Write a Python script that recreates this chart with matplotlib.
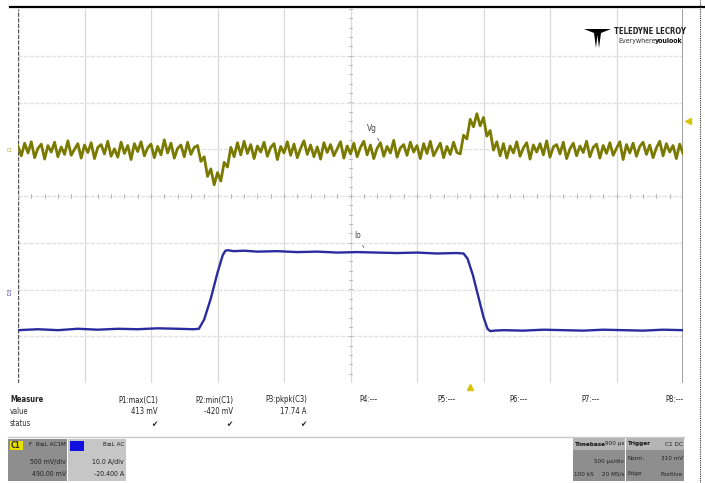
import matplotlib
matplotlib.use("Agg")
import matplotlib.pyplot as plt
import numpy as np
from matplotlib.patches import Rectangle, Polygon
from matplotlib.lines import Line2D

W, H = 705, 483

# scope settings
vg_scale = 500.0     # mV/div
vg_offset = 490.0    # mV
io_scale = 10.0      # A/div
io_offset = -20.4    # A
time_div = 500.0     # us/div
trig_delay = 900.0   # us
trig_level = 310.0   # mV

# C1 (Vg) trace, mV, one sample every 25 us from -3400 us
vg_t0, vg_dt = -3400.0, 25.0
vg_mv = [40, -60, 75, -30, 90, -80, 20, 65, -95, 50,
         -20, 85, -70, 35, -45, 100, -55, 10, 70, -85,
         55, -25, 80, -90, 30, 60, -40, 95, -65, 15,
         -75, 85, -35, 50, -100, 70, -15, 90, -60, 25,
         65, -80, 40, -50, 110, -30, 75, -85, 20, 55,
         -70, 85, -45, 30,
         50, -120, -70, -280, -200, -370, -240, -330, -130, -180, 30, -70,
         80, -50, 95, -35,
         60, -90, 45, -20, 85, -65, 30, 70, -100, 40,
         -30, 90, -55, 65, -80, 20, 100, -45, 55, -70,
         35, -95, 80, -25, 60, -60, 15, 90, -85, 45,
         -40, 75, -70, 30, 95, -50, 55, -90, 20, 80,
         -65, 40, -30, 105, -75, 25, 60, -55, 85, -20,
         50, -90, 70, -35, 95, -60, 10, 75, -80, 40,
         -45, 85, -25,
         -40, 160, 120, 330, 250, 390, 260, 350, 150, 210, 0, 90, -60,
         70, -85, 45, -30,
         90, -65, 25, 80, -95, 55, -20, 70, -50, 100,
         -75, 35, 60, -40, 85, -90, 15, 75, -60, 45,
         -25, 95, -70, 30, 65, -85, 50, -35, 80, -55,
         20, 90, -100, 60, -30, 75, -65, 40, 85, -45,
         55, -80, 25, 95, -60, 70, -20, 50, -90, 65,
         -35]

# C3 (Io) trace
io_t = [-3400, -3250, -3100, -2950, -2800, -2650, -2500, -2350, -2200, -2080,
        -2040, -2000, -1950, -1900, -1860, -1840, -1820, -1780, -1700, -1600,
        -1450, -1300, -1150, -1000, -850, -700, -550, -400, -250, -100,
        -50, -20, 20, 60, 100, 130, 150, 180, 250, 400,
        550, 700, 850, 1000, 1150, 1300, 1450, 1600]
io_a = [-8.3, -8.1, -8.3, -8.0, -8.2, -8.0, -8.1, -7.9, -8.0, -8.1,
        -8.0, -6.0, -1.5, 4.0, 7.8, 8.7, 8.8, 8.6, 8.7, 8.5,
        8.6, 8.4, 8.5, 8.3, 8.4, 8.3, 8.2, 8.3, 8.1, 8.2,
        8.1, 7.0, 3.5, -1.0, -5.5, -8.0, -8.5, -8.4, -8.3, -8.4,
        -8.2, -8.3, -8.4, -8.2, -8.3, -8.4, -8.2, -8.3]

meas_names = ["P1:max(C1)", "P2:min(C1)", "P3:pkpk(C3)", "P4:---", "P5:---",
              "P6:---", "P7:---", "P8:---"]
meas_values = ["413 mV", "-420 mV", "17.74 A", "", "", "", "", ""]
meas_status = ["\u2714", "\u2714", "\u2714", "", "", "", "", ""]

plt.rcParams['font.family'] = ["DejaVu Sans"]
plt.rcParams['font.stretch'] = "condensed"

fig = plt.figure(figsize=(W / 100, H / 100), dpi=100)
fig.patch.set_facecolor("white")


def fx(x):
    return x / W


def fy(y):
    return 1 - y / H


def ftxt(x, y, s, **kw):
    kw.setdefault("fontsize", 5.5)
    kw.setdefault("va", "center")
    kw.setdefault("fontstretch", "condensed")
    fig.text(fx(x), fy(y), s, **kw)


def frect(x, y, w, h, color, **kw):
    fig.add_artist(Rectangle((fx(x), fy(y + h)), w / W, h / H, transform=fig.transFigure,
                             facecolor=color, edgecolor="none", **kw))


ax = fig.add_axes([fx(18), fy(383), 665 / W, 374 / H])
ax.set_xlim(-5, 5)
ax.set_ylim(-4, 4)
for s in ax.spines.values():
    s.set_visible(False)
ax.set_xticks([])
ax.set_yticks([])

# graticule
for k in range(-4, 5):
    ax.axvline(k, color="#dadada", lw=0.9, zorder=0)
for k in range(-3, 4):
    ax.axhline(k, color="#e2e2e2", lw=1.0, ls=(0, (3, 1)), zorder=0)
ax.axvline(-5, color="#555555", lw=1.0, ls=(0, (3, 1)), zorder=0)
ax.axvline(5, color="#909090", lw=1.2, zorder=0)
for m in np.arange(-5, 5.01, 0.2):
    ax.plot([m, m], [-0.04, 0.04], color="#b0b0b0", lw=0.6, zorder=0)
for m in np.arange(-4, 4.01, 0.2):
    ax.plot([-0.03, 0.03], [m, m], color="#b0b0b0", lw=0.6, zorder=0)

# traces, converted to divisions
vg_t = vg_t0 + vg_dt * np.arange(len(vg_mv))
vg_x = (vg_t + trig_delay) / time_div
vg_y = (np.array(vg_mv) + vg_offset) / vg_scale
ax.plot(vg_x, vg_y, color="#7a7a00", lw=2.0, zorder=3)

io_x = (np.array(io_t) + trig_delay) / time_div
io_y = (np.array(io_a) + io_offset) / io_scale
ax.plot(io_x, io_y, color="#2b2ba0", lw=1.7, zorder=3)

# trace labels
ax.annotate("Vg", xy=(0.45, vg_offset / vg_scale + 0.15), xytext=(0.32, 1.44),
            fontsize=6, color="#444444", ha="center", va="center", fontstretch="condensed",
            arrowprops=dict(arrowstyle="-", color="#555555", lw=0.6))
ax.annotate("Io", xy=(0.2, (8.4 + io_offset) / io_scale + 0.1), xytext=(0.1, -0.85),
            fontsize=6, color="#444444", ha="center", va="center", fontstretch="condensed",
            arrowprops=dict(arrowstyle="-", color="#555555", lw=0.6))

# trigger markers
trig_y = (trig_level + vg_offset) / vg_scale
ax.plot([5.08], [trig_y], marker="<", color="#d8c400", ms=4, clip_on=False)
ax.plot([trig_delay / time_div], [-4.08], marker="^", color="#d8c400", ms=4, clip_on=False)

# ground markers on the left edge
ax.text(-5.08, vg_offset / vg_scale, "C1", fontsize=3.5, color="#a89a20",
        ha="right", va="center", clip_on=False)
ax.text(-5.08, io_offset / io_scale, "IO3", fontsize=3.5, color="#3030a0",
        ha="right", va="center", rotation=90, clip_on=False)

# frame lines
fig.add_artist(Line2D([fx(10), fx(705)], [fy(7), fy(7)], color="black", lw=1.6))
fig.add_artist(Line2D([fx(700), fx(700)], [0, 1], color="#333333", lw=0.8, ls=(0, (1, 1))))
fig.add_artist(Line2D([fx(8), fx(684)], [fy(437), fy(437)], color="#c8c8c8", lw=1.0))

# logo
logo = [(584, 29), (611, 29), (601, 33), (599, 48), (597.5, 35), (596, 48), (594, 33)]
fig.add_artist(Polygon([(fx(a), fy(b)) for a, b in logo], closed=True,
                       transform=fig.transFigure, facecolor="black", edgecolor="none"))
ftxt(614, 31, "TELEDYNE LECROY", fontsize=5.6, color="#222222", fontweight="bold")
ftxt(683, 41, "youlook", fontsize=5, color="#111111", fontweight="bold", ha="right")
ftxt(656, 41, "Everywhere", fontsize=5, color="#333333", ha="right")

# measurement table
ftxt(10, 400, "Measure", color="#222222", fontweight="bold")
ftxt(10, 412, "value", color="#333333")
ftxt(10, 424, "status", color="#333333")
col_x = [158, 233, 307, 378, 455, 527, 600, 683]
for cx, nm, v, st in zip(col_x, meas_names, meas_values, meas_status):
    ftxt(cx, 400, nm, ha="right", color="#222222")
    if v:
        ftxt(cx, 412, v, ha="right", color="#222222")
    if st:
        ftxt(cx - 4, 425, st, ha="center", color="#222222", fontsize=6)

# channel boxes
frect(8, 439, 59, 42, "#8e8e8e")
frect(10, 441, 13, 9, "#e8e000")
ftxt(11, 445.5, "C1", fontsize=5.5, color="#333300", fontweight="bold")
ftxt(66, 445, "F  B\u2261L AC1M", ha="right", fontsize=4.6, color="#222222")
ftxt(66, 462, "500 mV/div", ha="right", fontsize=5, color="#222222")
ftxt(66, 474, "490.00 mV", ha="right", fontsize=5, color="#222222")

frect(68, 439, 58, 42, "#c6c6c6")
frect(70, 441, 14, 10, "#1010e0")
ftxt(124, 445, "B\u2261L AC", ha="right", fontsize=4.6, color="#222222")
ftxt(124, 462, "10.0 A/div", ha="right", fontsize=5, color="#222222")
ftxt(124, 474, "-20.400 A", ha="right", fontsize=5, color="#222222")

frect(573, 438, 52, 43, "#8e8e8e")
frect(573, 438, 52, 12, "#b4b4b4")
ftxt(574, 444, "Timebase", fontsize=4.6, color="#111111", fontweight="bold")
ftxt(624, 444, "900 \u00b5s", ha="right", fontsize=4.6, color="#222222")
ftxt(624, 461, "500 \u00b5s/div", ha="right", fontsize=4.6, color="#222222")
ftxt(574, 474, "100 kS", fontsize=4.6, color="#222222")
ftxt(624, 474, "20 MS/s", ha="right", fontsize=4.6, color="#222222")

frect(626, 438, 58, 43, "#8e8e8e")
frect(626, 438, 58, 12, "#b4b4b4")
ftxt(627, 444, "Trigger", fontsize=4.6, color="#111111", fontweight="bold")
ftxt(683, 444, "C1 DC", ha="right", fontsize=4.6, color="#222222")
ftxt(627, 459, "Norm.", fontsize=4.6, color="#222222")
ftxt(683, 459, "310 mV", ha="right", fontsize=4.6, color="#222222")
ftxt(627, 474, "Edge", fontsize=4.6, color="#222222")
ftxt(683, 474, "Positive", ha="right", fontsize=4.6, color="#222222")

fig.savefig("out.png", dpi=100)
